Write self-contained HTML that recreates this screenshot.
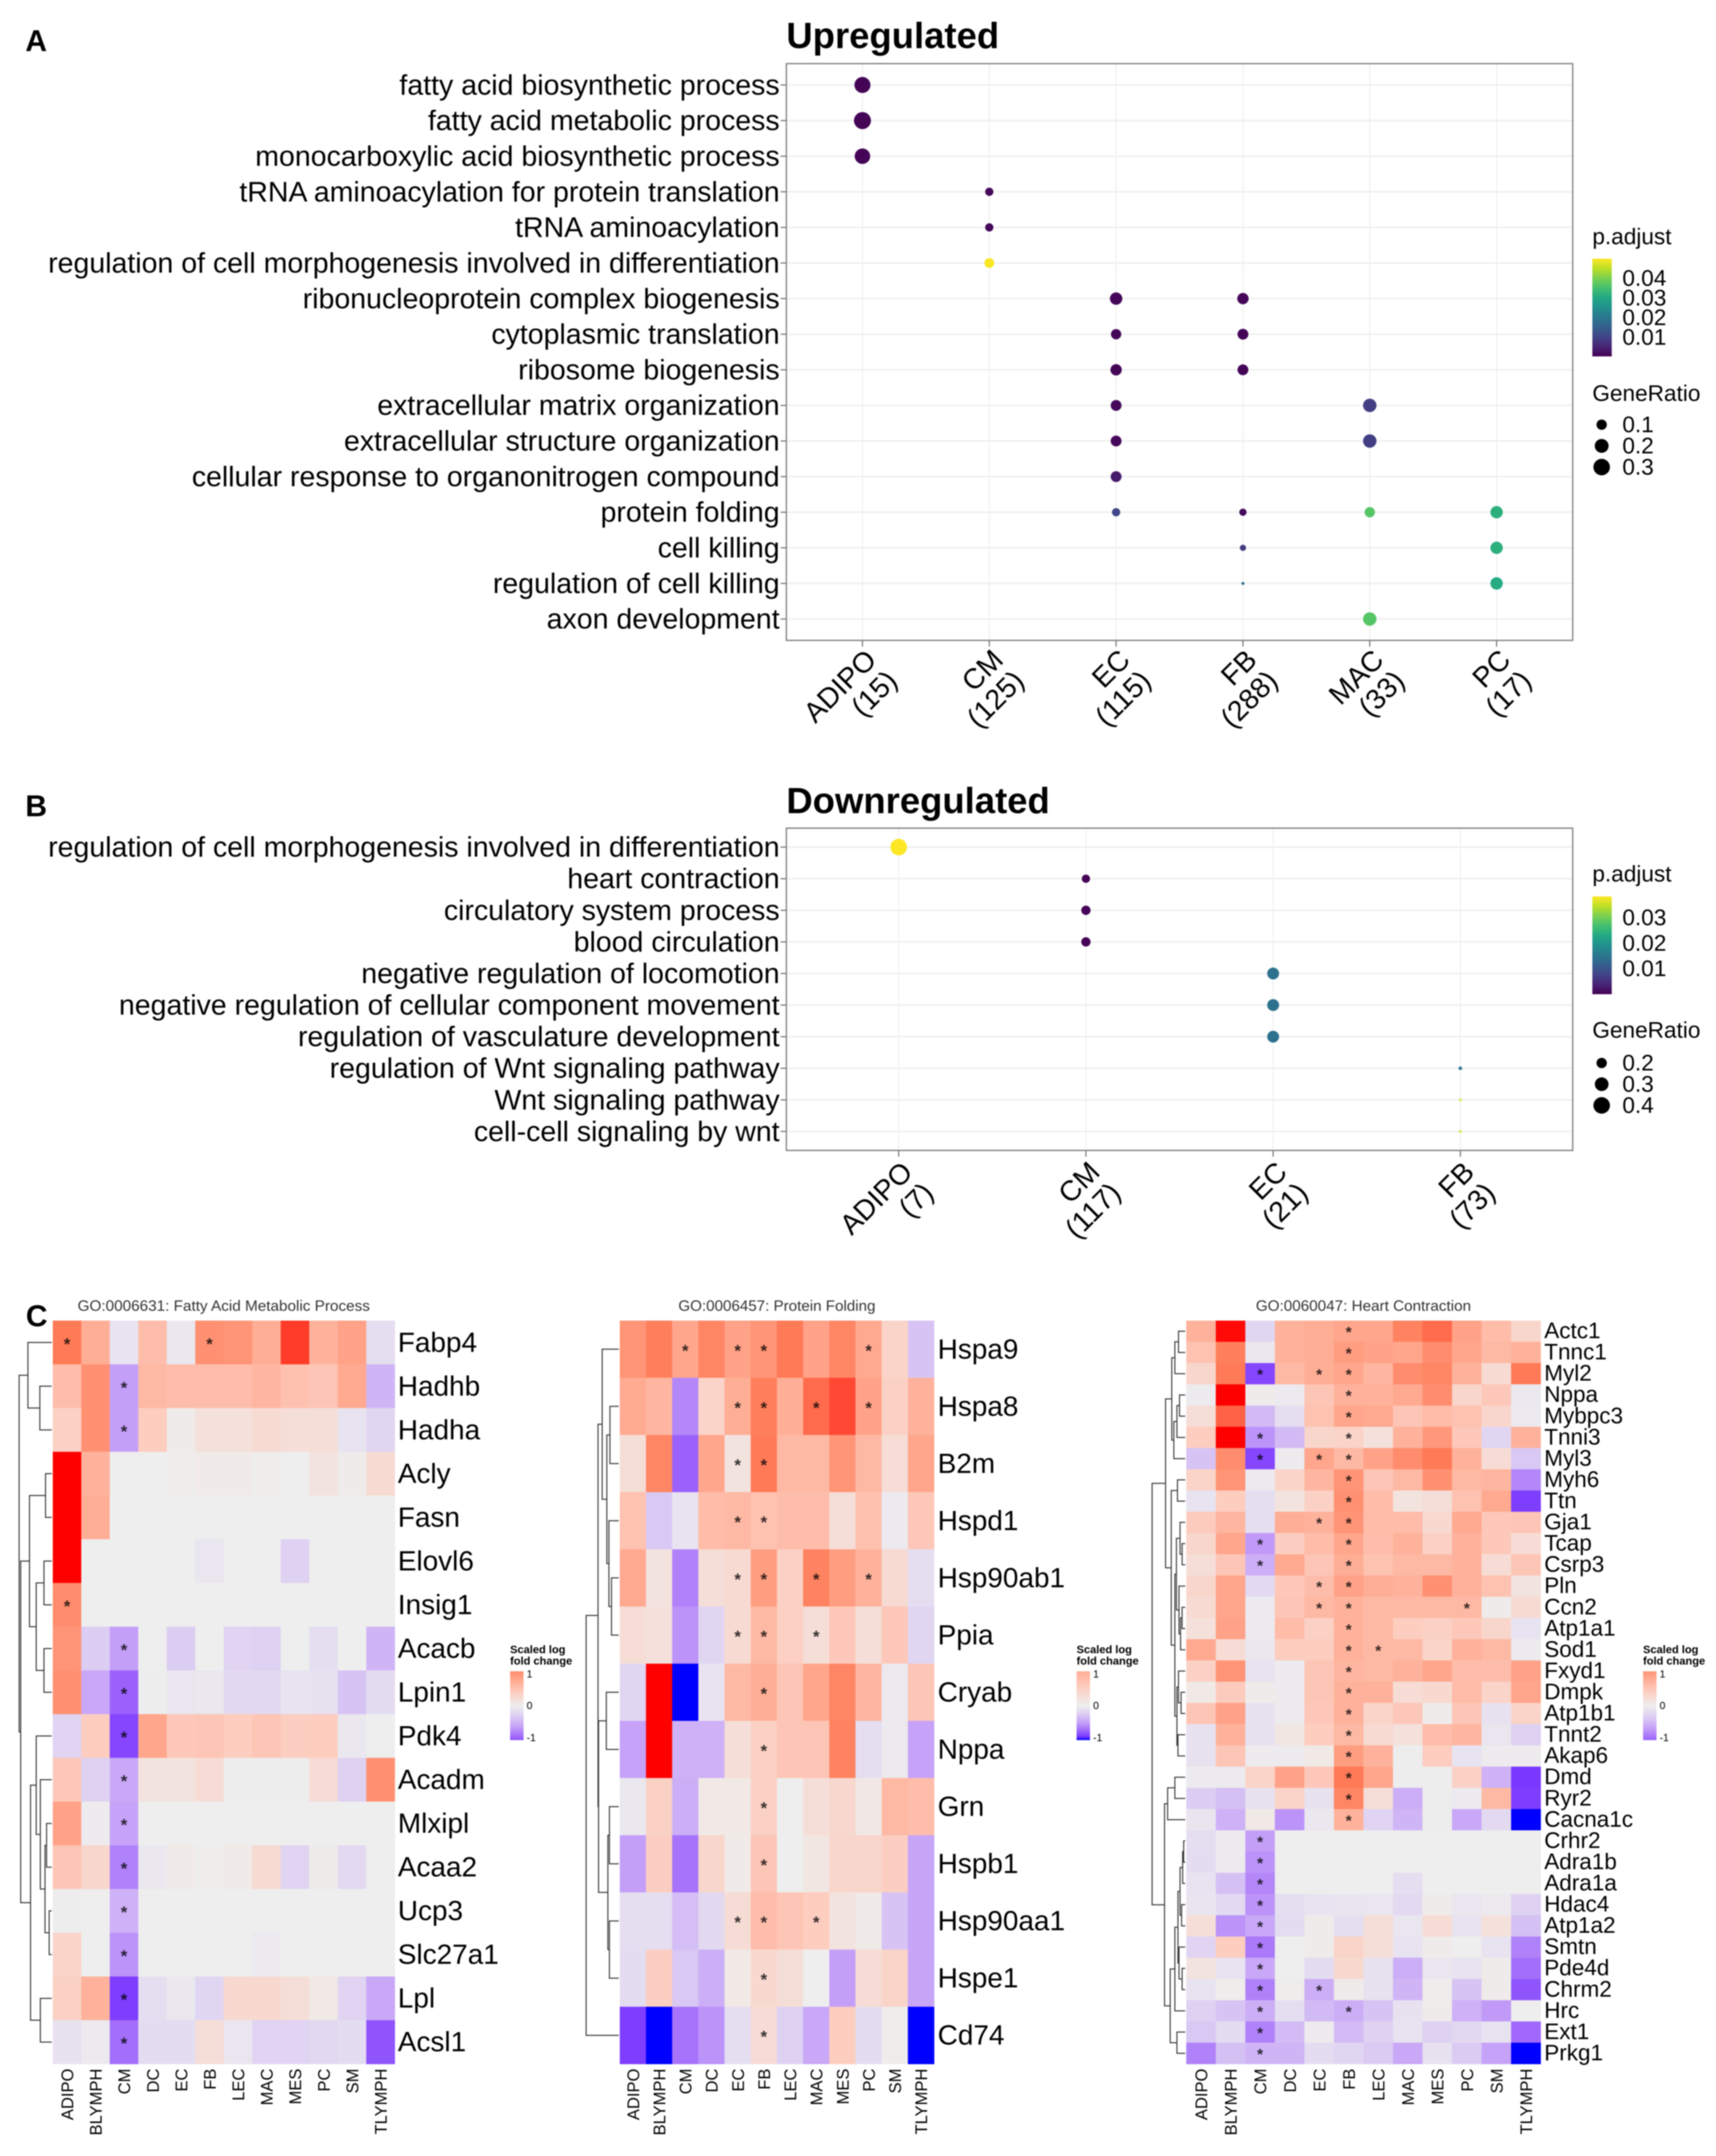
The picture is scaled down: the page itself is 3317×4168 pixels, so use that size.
<!DOCTYPE html>
<html><head><meta charset="utf-8"><title>GO enrichment figure</title>
<style>
html,body{margin:0;padding:0;background:#fff}
svg{display:block;filter:blur(1px)}
text{font-family:"Liberation Sans",sans-serif;fill:#000}
</style></head>
<body>
<svg id="fig" xmlns="http://www.w3.org/2000/svg" width="3317" height="4168" viewBox="0 0 3317 4168">
<defs id="defs"></defs>
<rect x="0" y="0" width="3317" height="4168" fill="#fff"/>
<text x="49" y="99" font-size="58" font-weight="700">A</text>
<text x="49" y="1578" font-size="58" font-weight="700">B</text>
<text x="50" y="2564" font-size="58" font-weight="700">C</text>
<text x="1520" y="93" font-size="70.5" font-weight="700">Upregulated</text>
<text x="1520" y="1572" font-size="70.5" font-weight="700">Downregulated</text>
<g id="panel-a"></g>
<g id="panel-b"></g>
<g id="heat-1"></g>
<g id="heat-2"></g>
<g id="heat-3"></g>
</svg>
<script>
// ---------- Upregulated dot plot data ----------
const upTerms = ['fatty acid biosynthetic process','fatty acid metabolic process','monocarboxylic acid biosynthetic process','tRNA aminoacylation for protein translation','tRNA aminoacylation','regulation of cell morphogenesis involved in differentiation','ribonucleoprotein complex biogenesis','cytoplasmic translation','ribosome biogenesis','extracellular matrix organization','extracellular structure organization','cellular response to organonitrogen compound','protein folding','cell killing','regulation of cell killing','axon development'];
const upClusters = ['ADIPO','CM','EC','FB','MAC','PC'];
const upCounts = [15,125,115,288,33,17];
const upTermIdx = [0,1,2,3,4,5,6,7,8,9,10,11,12,6,7,8,12,13,14,9,10,12,15,12,13,14];
const upClusterIdx = [0,0,0,1,1,1,2,2,2,2,2,2,2,3,3,3,3,3,3,4,4,4,4,5,5,5];
const upRatio = [.28,.32,.26,.057,.057,.088,.155,.1,.126,.113,.113,.113,.057,.126,.113,.113,.04,.026,.002,.187,.187,.1,.187,.155,.155,.155];
const upPadj = [.001,.001,.001,.0015,.0015,.05,.0012,.001,.001,.0015,.0015,.004,.011,.0012,.001,.001,.0015,.009,.019,.0095,.0095,.037,.037,.032,.032,.031];
const upColorTicks = [0.04,0.03,0.02,0.01];
const upSizeTicks = [0.1,0.2,0.3];

// ---------- Downregulated dot plot data ----------
const downTerms = ['regulation of cell morphogenesis involved in differentiation','heart contraction','circulatory system process','blood circulation','negative regulation of locomotion','negative regulation of cellular component movement','regulation of vasculature development','regulation of Wnt signaling pathway','Wnt signaling pathway','cell-cell signaling by wnt'];
const downClusters = ['ADIPO','CM','EC','FB'];
const downCounts = [7,117,21,73];
const downTermIdx = [0,1,2,3,4,5,6,7,8,9];
const downClusterIdx = [0,1,1,1,2,2,2,3,3,3];
const downRatio = [.40,.149,.174,.174,.244,.244,.244,.061,.047,.047];
const downPadj = [.0385,.0005,.0005,.0005,.0145,.0145,.0145,.0155,.036,.036];
const downColorTicks = [0.03,0.02,0.01];
const downSizeTicks = [0.2,0.3,0.4];

// ---------- Heatmap data (percent of scale, columns follow heatCols) ----------
const heatCols = ['ADIPO','BLYMPH','CM','DC','EC','FB','LEC','MAC','MES','PC','SM','TLYMPH'];

const fattyGenes = ['Fabp4','Hadhb','Hadha','Acly','Fasn','Elovl6','Insig1','Acacb','Lpin1','Pdk4','Acadm','Mlxipl','Acaa2','Ucp3','Slc27a1','Lpl','Acsl1'];
const fattyValues = [
[75,45,-8,35,-5,62,60,45,88,42,52,-12],
[35,62,-50,38,35,35,35,40,33,30,48,-38],
[22,62,-50,25,2,10,10,15,12,12,-8,-18],
[100,42,0,0,1,3,3,1,0,8,2,15],
[100,45,0,0,0,0,0,0,0,0,0,0],
[100,0,0,0,0,-6,0,0,-22,0,0,0],
[65,0,0,0,0,0,0,0,0,0,0,0],
[60,-25,-50,0,-25,0,-20,-22,0,-12,0,-38],
[62,-45,-75,-1,-6,-5,-16,-16,-8,-10,-30,-14],
[-20,25,-85,50,28,30,25,30,24,25,-5,0],
[28,-22,-45,8,8,14,-1,-1,-1,14,-22,62],
[52,-2,-48,0,0,0,0,0,0,0,0,0],
[30,18,-62,-5,3,1,3,15,-20,2,-15,0],
[-1,0,-40,0,0,0,0,0,0,0,0,0],
[20,0,-55,0,0,0,0,-3,0,0,0,0],
[22,42,-88,-12,-5,-18,16,16,12,4,-20,-45],
[-9,-3,-70,-14,-14,12,-6,-20,-20,-16,-14,-80]];
const fattyStars = [[0,0],[0,5],[1,2],[2,2],[6,0],[7,2],[8,2],[9,2],[10,2],[11,2],[12,2],[13,2],[14,2],[15,2],[16,2]];
const fattyTree = [65,[48,0,[25,1,2]],[62,[45,[14,3,4],[32,[17,5,6],[17,7,8]]],[43,[32,9,[24,10,[15,[12,11,12],[7,13,14]]]],[24,15,16]]]];

const foldingGenes = ['Hspa9','Hspa8','B2m','Hspd1','Hsp90ab1','Ppia','Cryab','Nppa','Grn','Hspb1','Hsp90aa1','Hspe1','Cd74'];
const foldingValues = [
[60,72,50,68,52,60,75,52,68,48,20,-30],
[47,40,-60,20,45,72,44,78,85,52,22,42],
[12,68,-75,50,8,75,38,38,60,38,13,50],
[32,-28,-8,36,38,32,35,35,12,33,-3,28],
[48,8,-62,12,15,55,22,70,55,42,15,-12],
[13,10,-55,-18,15,38,23,12,28,12,28,-18],
[-18,100,-100,-8,38,45,30,50,68,40,-3,30],
[-48,100,-40,-40,12,22,30,30,70,-12,-3,-48],
[-5,22,-42,4,4,22,0,12,17,5,38,35],
[-50,24,-68,18,3,30,0,6,18,18,24,-47],
[-12,-12,-33,-16,14,35,30,25,8,3,-30,-47],
[-14,24,-28,-42,4,16,12,0,-50,14,20,-47],
[-88,-100,-68,-55,-12,14,-22,-45,25,-14,1,-100]];
const foldingStars = [[0,2],[0,4],[0,5],[0,9],[1,4],[1,5],[1,7],[1,9],[2,4],[2,5],[3,4],[3,5],[4,4],[4,5],[4,7],[4,9],[5,4],[5,5],[5,7],[6,5],[7,5],[8,5],[9,5],[10,4],[10,5],[10,7],[11,5],[12,5]];
const foldingTree = [65,[42,[34,0,[25,[19,1,2],[21,3,[16,4,5]]]],[41,[26,6,7],[23,[20,8,9],[20,10,11]]]],12];

const heartGenes = ['Actc1','Tnnc1','Myl2','Nppa','Mybpc3','Tnni3','Myl3','Myh6','Ttn','Gja1','Tcap','Csrp3','Pln','Ccn2','Atp1a1','Sod1','Fxyd1','Dmpk','Atp1b1','Tnnt2','Akap6','Dmd','Ryr2','Cacna1c','Crhr2','Adra1b','Adra1a','Hdac4','Atp1a2','Smtn','Pde4d','Chrm2','Hrc','Ext1','Prkg1'];
const heartValues = [
[42,98,-18,42,45,50,50,70,78,52,36,18],
[32,72,-5,42,45,55,52,50,65,50,38,42],
[18,75,-85,38,45,50,40,65,68,42,15,75],
[-2,100,2,-3,30,42,42,48,65,18,28,-4],
[12,80,-35,-12,32,50,48,30,36,32,18,-3],
[25,100,-55,-35,18,20,10,42,58,28,-18,42],
[-30,65,-85,-2,50,38,52,65,75,42,14,-28],
[20,60,-3,20,40,60,30,38,62,38,40,-60],
[-8,25,-12,8,22,62,36,8,12,32,48,-88],
[26,40,-12,45,42,60,36,36,16,48,28,30],
[18,50,-52,24,36,50,35,42,22,42,28,14],
[12,30,-42,48,30,45,32,38,38,42,14,30],
[18,50,-15,28,35,52,45,42,62,42,32,8],
[15,50,-3,30,38,42,38,38,38,38,2,15],
[10,52,-3,36,22,42,38,25,22,28,18,-8],
[48,14,-5,25,25,42,38,38,20,42,38,-2],
[22,60,-8,-2,30,40,38,42,50,35,35,52],
[4,26,2,-2,30,42,42,14,16,36,20,50],
[30,52,-10,-2,28,42,20,28,2,30,-10,20],
[-10,42,-9,6,25,38,15,10,35,40,-6,-22],
[-9,30,-2,-2,4,55,42,-1,25,-8,-2,-2],
[-2,-3,20,52,28,75,50,-1,-1,22,-40,-90],
[-25,-32,-9,20,-9,68,12,-42,-1,-3,38,-88],
[-7,-40,4,-55,-5,42,-20,-38,-1,-45,-15,-100],
[-12,-2,-50,0,0,0,0,0,0,0,0,0],
[-14,-2,-55,0,0,0,0,0,0,0,0,0],
[-8,-32,-60,0,0,0,0,-12,0,0,0,0],
[-7,-15,-55,-12,-8,-7,-6,-15,2,-6,-3,-22],
[12,-55,-45,-14,2,-12,12,-6,14,-8,10,-32],
[-20,25,-65,0,2,20,12,-8,2,0,-8,-62],
[8,-8,-45,0,-14,16,-9,-42,-6,-8,2,-70],
[-8,1,-62,1,-42,2,-9,-38,1,-30,2,-80],
[-22,-30,-42,-12,-35,-42,-30,-9,2,-40,-52,0],
[-28,-14,-62,-34,-2,-34,-22,-8,-22,-16,-8,-72],
[-62,-32,-38,-38,-14,-18,-26,-45,-10,-26,-48,-100]];
const heartStars = [[0,5],[1,5],[2,2],[2,4],[2,5],[3,5],[4,5],[5,2],[5,5],[6,2],[6,4],[6,5],[7,5],[8,5],[9,4],[9,5],[10,2],[10,5],[11,2],[11,5],[12,4],[12,5],[13,4],[13,5],[13,9],[14,5],[15,5],[15,6],[16,5],[17,5],[18,5],[19,5],[20,5],[21,5],[22,5],[23,5],[24,2],[25,2],[26,2],[27,2],[28,2],[29,2],[30,2],[31,2],[31,4],[32,2],[32,5],[33,2],[34,2]];
const heartTree = [66,[40,[28,[22,[15,0,1],2],[24,[18,[13,3,4],5],6]],[29,[17,7,8],[22,[19,[12,9,[8,10,11]],[14,12,[11,[8,13,14],15]]],[18,[15,16,[10,17,18]],[16,19,20]]]]],[42,[36,[22,21,22],23],[31,[22,[16,[12,[7,[5,24,25],26],[9,27,28]],[14,29,[8,30,31]]],32],[18,33,34]]]];

// ---------- Helpers ----------
const NS = 'http://www.w3.org/2000/svg';
function make(tag, parent, attrs, txt){
  const el = document.createElementNS(NS, tag);
  for (const k in attrs) el.setAttribute(k, attrs[k]);
  if (txt !== undefined) el.textContent = txt;
  parent.appendChild(el);
  return el;
}
function hex(c){return [parseInt(c.slice(1,3),16),parseInt(c.slice(3,5),16),parseInt(c.slice(5,7),16)];}
function lerp(a,b,t){const A=hex(a),B=hex(b);return 'rgb('+A.map((v,i)=>Math.round(v+(B[i]-v)*t)).join(',')+')';}
function darken(rgb,f){
  const m=rgb.match(/\d+/g).map(Number);
  return 'rgb('+m.map(v=>Math.round(v*f)).join(',')+')';
}
const viridisPalette = ['#440154','#482475','#414487','#355f8d','#2a788e','#21908d','#22a884','#44bf70','#7ad151','#bddf26','#fde725'];
function viridis(t){
  t=Math.max(0,Math.min(1,t));
  const p=t*(viridisPalette.length-1), i=Math.min(Math.floor(p),viridisPalette.length-2);
  return lerp(viridisPalette[i],viridisPalette[i+1],p-i);
}
const posRamp=[[0,'#eeeeee'],[.25,'#fdcdbf'],[.5,'#ffa68c'],[.75,'#ff7a56'],[1,'#ff0000']];
const negRamp=[[0,'#eeeeee'],[.25,'#dccdf3'],[.5,'#c49ff8'],[.75,'#9b62fb'],[.9,'#7a38ff'],[1,'#0000ff']];
function heatColor(v){
  const ramp=v>=0?posRamp:negRamp, a=Math.min(1,Math.abs(v));
  for(let i=1;i<ramp.length;i++){
    if(a<=ramp[i][0]) return lerp(ramp[i-1][1],ramp[i][1],(a-ramp[i-1][0])/(ramp[i][0]-ramp[i-1][0]));
  }
  return lerp(ramp[ramp.length-1][1],ramp[ramp.length-1][1],0);
}
const defs=document.getElementById('defs');
function gradient(id, colorAt){
  const g=make('linearGradient',defs,{id:id,x1:0,y1:0,x2:0,y2:1});
  for(let i=0;i<=20;i++){
    const s=make('stop',g,{offset:(i/20),'stop-color':colorAt(i/20)});
  }
}

// ---------- Dot plot ----------
function dotplot(cfg){
  const g=document.getElementById(cfg.id);
  const L=1520,R=3040,T=cfg.top,B=cfg.bottom;
  const xStep=(R-L)/(cfg.clusters.length-1+1.2), yStep=(B-T)/(cfg.terms.length-1+1.2);
  const xOf=i=>L+xStep*(i+.6), yOf=i=>T+yStep*(i+.6);
  const colorOf=p=>viridis((p-cfg.pMin)/(cfg.pMax-cfg.pMin));
  const radiusOf=r=>cfg.sizeA+cfg.sizeB*Math.sqrt(r);

  const bg=make('rect',g,{x:L,y:T,width:R-L,height:B-T,fill:'#fff'});
  
  

  cfg.terms.forEach((term,i)=>{
    const y=yOf(i);
    const grid=make('line',g,{x1:L,x2:R,y1:y,y2:y,stroke:'#efefef','stroke-width':3});
    
    
    const tick=make('line',g,{x1:L-11,x2:L,y1:y,y2:y,stroke:'#666','stroke-width':2});
    
    
    const lab=make('text',g,{x:1507,y:y+18.5,'font-size':55.1,'text-anchor':'end'},term);
    
    
  });
  cfg.clusters.forEach((c,i)=>{
    const x=xOf(i);
    const grid=make('line',g,{x1:x,x2:x,y1:T,y2:B,stroke:'#efefef','stroke-width':2});
    
    
    const tick=make('line',g,{x1:x,x2:x,y1:B,y2:B+12,stroke:'#666','stroke-width':2});
    
    
    const lab=make('text',g,{transform:'translate('+(x+30)+','+(B+cfg.labelDrop)+') rotate(-45)','font-size':55,'text-anchor':'end'});
    
    
    make('tspan',lab,{x:0,y:0},c);
    make('tspan',lab,{x:0,y:57},'('+cfg.counts[i]+')');
  });
  const frame=make('rect',g,{x:L,y:T,width:R-L,height:B-T,fill:'none',stroke:'#7f7f7f','stroke-width':2.5});
  
  

  cfg.ratio.forEach((r,i)=>{
    const dot=make('circle',g,{cx:xOf(cfg.clusterIdx[i]),cy:yOf(cfg.termIdx[i]),r:radiusOf(r),fill:colorOf(cfg.padj[i])});
    
    
  });

  // legends
  const t1=make('text',g,{x:3078,y:cfg.colorTitleY,'font-size':43.7},'p.adjust');
  
  
  gradient(cfg.id+'-bar',f=>colorOf(cfg.pMax-(cfg.pMax-cfg.pMin)*f));
  const bar=make('rect',g,{x:3078,y:cfg.barTop,width:37.5,height:cfg.barBottom-cfg.barTop,fill:'url(#'+cfg.id+'-bar)'});
  
  
  cfg.colorTicks.forEach(v=>{
    const y=cfg.barTop+(cfg.pMax-v)/(cfg.pMax-cfg.pMin)*(cfg.barBottom-cfg.barTop);
    const lab=make('text',g,{x:3136,y:y+13.5,'font-size':43.7},v.toFixed(2));
    
    
  });
  const t2=make('text',g,{x:3078,y:cfg.sizeTitleY,'font-size':43.7},'GeneRatio');
  
  
  cfg.sizeTicks.forEach((v,i)=>{
    const y=cfg.sizeY0+cfg.sizeDy*i;
    const key=make('circle',g,{cx:3096,cy:y,r:radiusOf(v),fill:'#000'});
    
    
    const lab=make('text',g,{x:3136,y:y+14.5,'font-size':43.7},v.toFixed(1));
    
    
  });
}

dotplot({id:'panel-a',top:123,bottom:1238,labelDrop:41,terms:upTerms,clusters:upClusters,counts:upCounts,termIdx:upTermIdx,clusterIdx:upClusterIdx,ratio:upRatio,padj:upPadj,pMin:.0005,pMax:.0503,sizeA:1.8,sizeB:25.9,colorTicks:upColorTicks,sizeTicks:upSizeTicks,colorTitleY:472,barTop:500,barBottom:689,sizeTitleY:775,sizeY0:821,sizeDy:41});
dotplot({id:'panel-b',top:1601,bottom:2224,labelDrop:45,terms:downTerms,clusters:downClusters,counts:downCounts,termIdx:downTermIdx,clusterIdx:downClusterIdx,ratio:downRatio,padj:downPadj,pMin:.0002,pMax:.0385,sizeA:-4.5,sizeB:32.4,colorTicks:downColorTicks,sizeTicks:downSizeTicks,colorTitleY:1704,barTop:1733,barBottom:1922,sizeTitleY:2006,sizeY0:2055,sizeDy:41});

// ---------- Heatmap ----------
function heatmap(cfg){
  const g=document.getElementById(cfg.id);
  const L=cfg.left,R=cfg.right,T=2553,B=3990;
  const cw=(R-L)/heatCols.length, rh=(B-T)/cfg.genes.length;
  const xOf=c=>L+cw*(c+.5), yOf=r=>T+rh*(r+.5);

  const title=make('text',g,{x:(L+R)/2,y:2534,'font-size':29,'text-anchor':'middle',textLength:cfg.titleWidth,lengthAdjust:'spacingAndGlyphs',style:'fill:#333'},cfg.title);
  
  

  cfg.values.forEach((row,r)=>{
    row.forEach((v,c)=>{
      const cell=make('rect',g,{x:L+cw*c,y:T+rh*r,width:cw+.5,height:rh+.5,fill:heatColor(v/100)});
      
      
    });
  });
  cfg.stars.forEach(s=>{
    const star=make('text',g,{x:xOf(s[1]),y:yOf(s[0])+cfg.starDy,'font-size':cfg.starSize,'font-weight':700,'text-anchor':'middle',style:'fill:'+darken(heatColor(cfg.values[s[0]][s[1]]/100),.22)},'*');
    
    
  });
  cfg.genes.forEach((gene,r)=>{
    const lab=make('text',g,{x:R+cfg.labelGap,y:yOf(r)+cfg.labelDy,'font-size':cfg.labelSize},gene);
    
    
  });
  heatCols.forEach((col,c)=>{
    const lab=make('text',g,{transform:'translate('+(xOf(c)+12)+','+(B+9)+') rotate(-90)','font-size':32,'text-anchor':'end'},col);
    
    
  });

  // dendrogram from merge tree: [height, childA, childB], leaves are gene indices
  function walk(node){
    if(typeof node==='number') return {x:L-2,y:yOf(node)};
    const a=walk(node[1]), b=walk(node[2]), x=L-node[0];
    const path=make('path',g,{d:'M'+a.x+' '+a.y+'H'+x+'V'+b.y+'H'+b.x,fill:'none',stroke:'#333','stroke-width':2});
    
    
    return {x:x,y:(a.y+b.y)/2};
  }
  walk(cfg.tree);

  // legend
  const lx=cfg.legendX;
  const l1=make('text',g,{x:lx,y:3196,'font-size':21.4,'font-weight':700},'Scaled log');
  
  
  const l2=make('text',g,{x:lx,y:3218,'font-size':21.4,'font-weight':700},'fold change');
  
  
  gradient(cfg.id+'-bar',f=>heatColor(f<.5?cfg.legendTop*(1-f*2):cfg.legendBottom*(f*2-1)));
  const bar=make('rect',g,{x:lx,y:3231,width:26,height:133,fill:'url(#'+cfg.id+'-bar)'});
  
  
  [['1',3243],['0',3304],['-1',3366]].forEach(p=>{
    const t=make('text',g,{x:lx+32,y:p[1],'font-size':20},p[0]);
    
    
  });
}

heatmap({id:'heat-1',left:102,right:763,title:'GO:0006631: Fatty Acid Metabolic Process',titleWidth:565,genes:fattyGenes,values:fattyValues,stars:fattyStars,tree:fattyTree,labelSize:54,labelDy:18,labelGap:6,starSize:32,starDy:14,legendX:986,legendTop:.65,legendBottom:-.8});
heatmap({id:'heat-2',left:1198,right:1805.5,title:'GO:0006457: Protein Folding',titleWidth:381,genes:foldingGenes,values:foldingValues,stars:foldingStars,tree:foldingTree,labelSize:54,labelDy:18,labelGap:7,starSize:32,starDy:14,legendX:2081,legendTop:.45,legendBottom:-1});
heatmap({id:'heat-3',left:2293,right:2978,title:'GO:0060047: Heart Contraction',titleWidth:416,genes:heartGenes,values:heartValues,stars:heartStars,tree:heartTree,labelSize:43.5,labelDy:13.5,labelGap:7,starSize:30,starDy:12,legendX:3176,legendTop:.6,legendBottom:-.75});
</script>
</body></html>
